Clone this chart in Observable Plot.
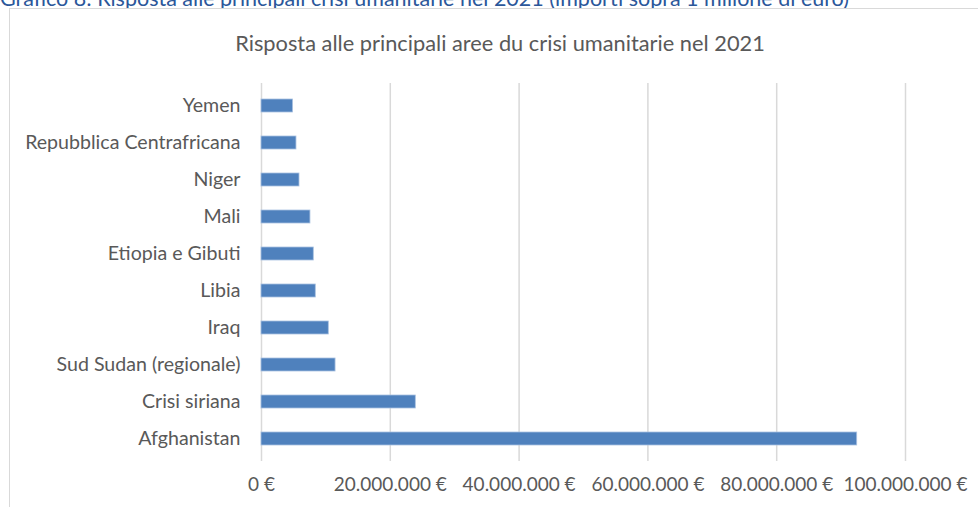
<!DOCTYPE html>
<html>
<head>
<meta charset="utf-8">
<script src="https://cdn.jsdelivr.net/npm/d3@7"></script>
<script src="https://cdn.jsdelivr.net/npm/@observablehq/plot@0.6"></script>
<style>
  html, body { margin: 0; padding: 0; background: #fff; overflow: hidden; width: 978px; height: 507px; }
  #wrap { position: relative; width: 978px; height: 507px; overflow: hidden; }
  #heading { position: absolute; left: 0px; top: -13px; font-family: Lato, sans-serif; font-size: 21.5px; line-height: 22px; color: #2b579a; white-space: nowrap; }
  #frame { position: absolute; left: 9px; top: 8px; width: 1100px; height: 600px; border: 1px solid #d9d9d9; background: #fff; }
  #title { position: absolute; left: 0; width: 1000px; top: 31px; text-align: center; font-family: Lato, sans-serif; font-size: 21.8px; line-height: 24px; color: #595959; }
  #chart { position: absolute; left: 0; top: 0; }
</style>
</head>
<body>
<div id="wrap">
  <div id="heading">Grafico 8: Risposta alle principali crisi umanitarie nel 2021 (importi sopra 1 milione di euro)</div>
  <div id="frame"></div>
  <div id="title">Risposta alle principali aree du crisi umanitarie nel 2021</div>
  <div id="chart"></div>
</div>
<script>
const categories = ["Yemen", "Repubblica Centrafricana", "Niger", "Mali", "Etiopia e Gibuti", "Libia", "Iraq", "Sud Sudan (regionale)", "Crisi siriana", "Afghanistan"];
const values = [4900000, 5430000, 5900000, 7600000, 8120000, 8430000, 10450000, 11500000, 23960000, 92500000];
const xTicks = [0, 20000000, 40000000, 60000000, 80000000, 100000000];

const data = categories.map((c, i) => ({category: c, value: values[i]}));
const fmt = v => v === 0 ? "0 €" : d3.format(",")(v).replace(/,/g, ".") + " €";

const chart = Plot.plot({
  width: 978,
  height: 507,
  marginLeft: 261,
  marginRight: 73,
  marginTop: 83,
  marginBottom: 46,
  style: {fontFamily: "Lato, sans-serif", fontSize: "19.5px", color: "#595959", background: "transparent", overflow: "visible"},
  x: {domain: [0, 100000000], label: null},
  y: {domain: categories, label: null, paddingInner: 0.64, paddingOuter: 0.32},
  marks: [
    Plot.ruleX(xTicks, {stroke: "#d9d9d9", strokeWidth: 1.5}),
    Plot.barX(data, {x: "value", y: "category", fill: "#4f81bd", stroke: "#a9c1e0", strokeWidth: 0.8}),
    Plot.axisX({ticks: xTicks, tickFormat: fmt, tickSize: 0, tickPadding: 16, fill: "#595959", fontSize: 19}),
    Plot.axisY({tickSize: 0, tickPadding: 21, fill: "#595959", fontSize: 19.6})
  ]
});
document.getElementById("chart").appendChild(chart);
</script>
</body>
</html>
